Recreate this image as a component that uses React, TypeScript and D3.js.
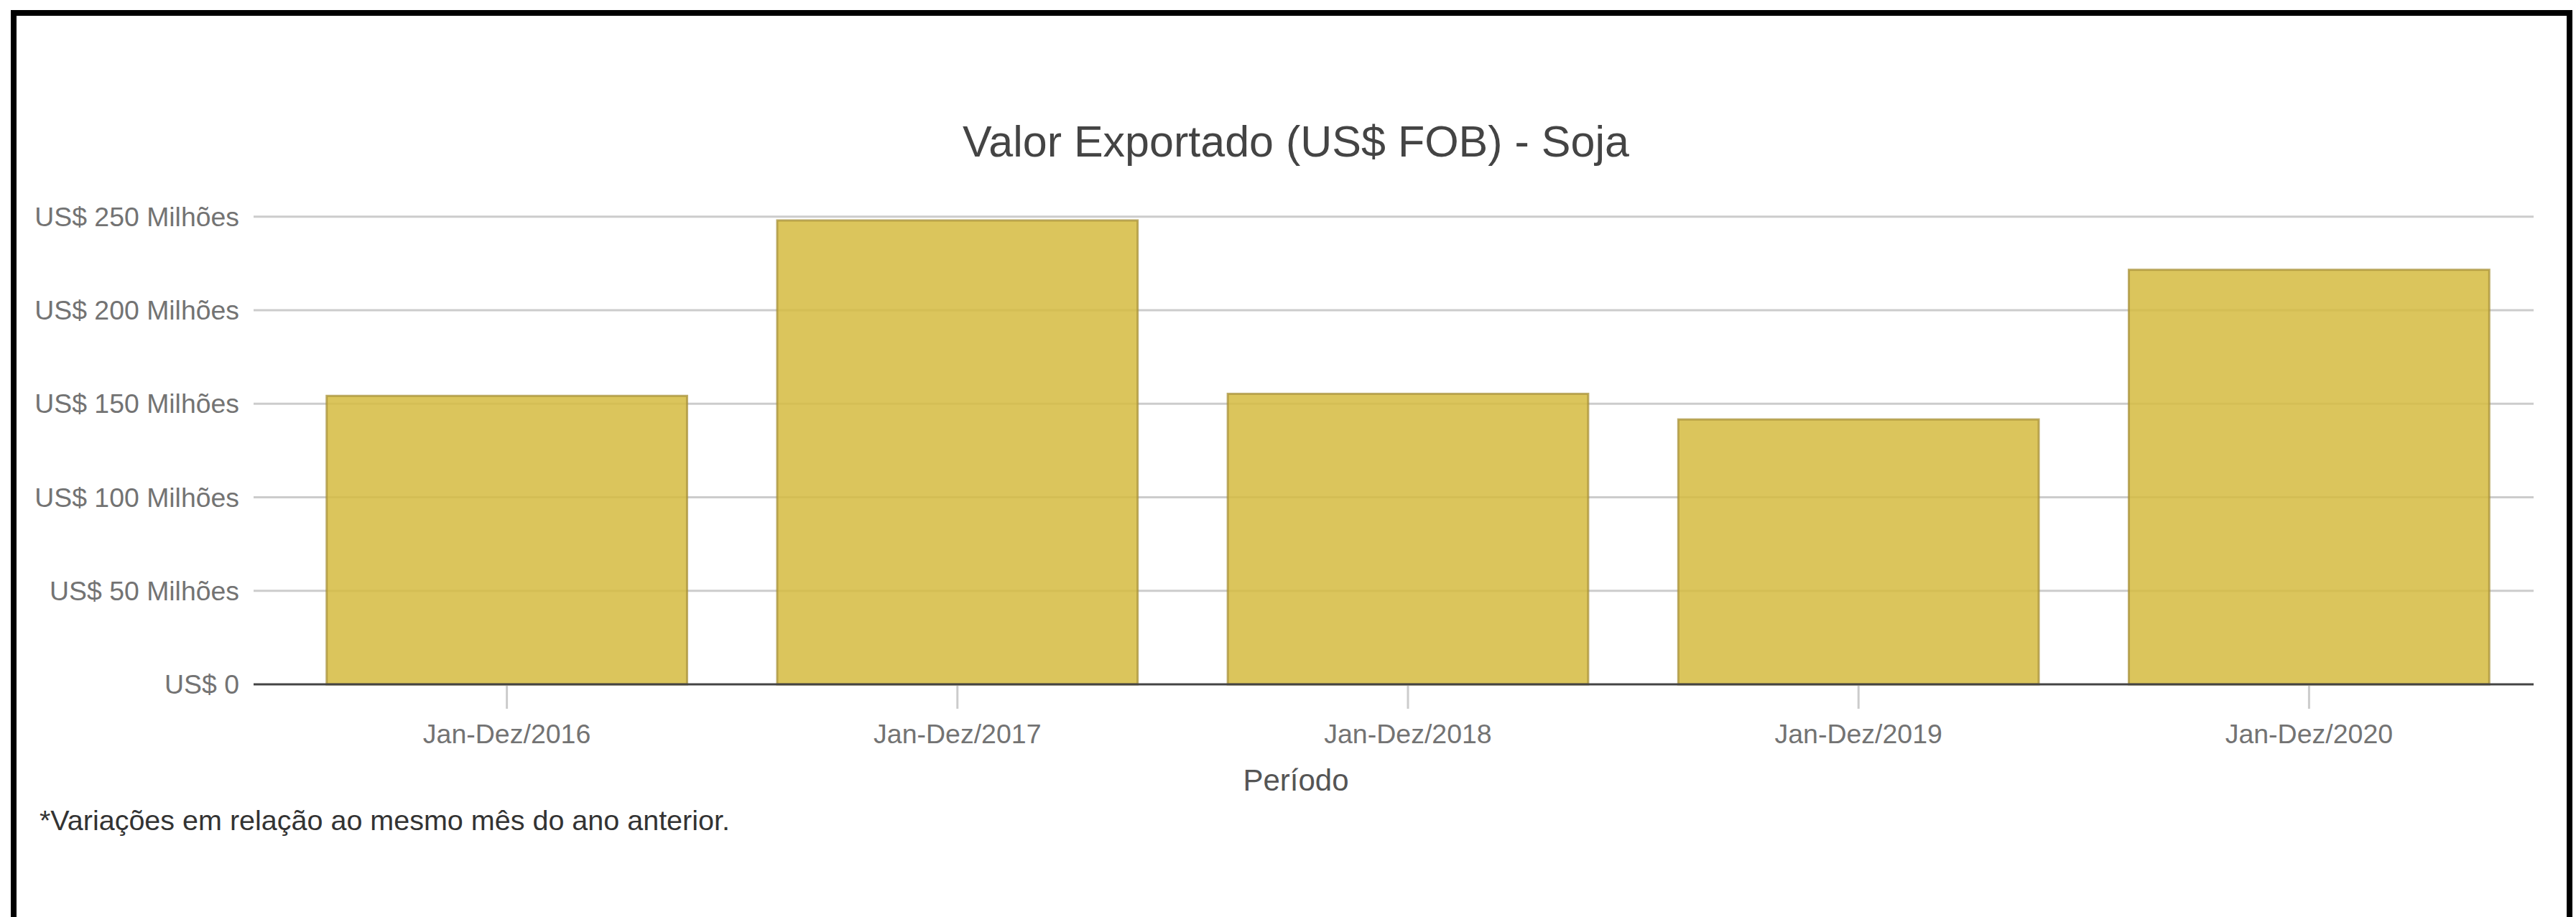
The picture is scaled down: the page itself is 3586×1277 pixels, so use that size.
import React from "react";
import * as d3 from "d3";

const categories = ["Jan-Dez/2016", "Jan-Dez/2017", "Jan-Dez/2018", "Jan-Dez/2019", "Jan-Dez/2020"];
const valuesMillions = [154.2, 248.0, 155.3, 141.6, 221.6];
const yTicks = [0, 50, 100, 150, 200, 250];
const title = "Valor Exportado (US$ FOB) - Soja";
const xAxisTitle = "Período";
const footnote = "*Variações em relação ao mesmo mês do ano anterior.";

const W = 3586;
const H = 1277;
const FONT = "'Liberation Sans', Arial, Helvetica, sans-serif";

function fmtTick(v: number): string {
  return v === 0 ? "US$ 0" : `US$ ${v} Milhões`;
}

export default function App() {
  const gridLeft = 353;
  const gridRight = 3527;
  const x = d3.scaleBand<string>().domain(categories).range([392, 3528]).paddingInner(0.2).paddingOuter(0.1);
  const y = d3.scaleLinear().domain([0, 250]).range([953, 301.7]);

  return (
    <svg
      width={W}
      height={H}
      viewBox={`0 0 ${W} ${H}`}
      style={{ position: "absolute", left: 0, top: 0, display: "block", background: "#fff" }}
      fontFamily={FONT}
    >
      <rect x={0} y={0} width={W} height={H} fill="#fff" />
      {/* frame */}
      <rect x={19} y={18} width={3558} height={1300} fill="none" stroke="#000" strokeWidth={8} />

      {/* title */}
      <text x={1804} y={218} textAnchor="middle" fontSize={61} fill="#444">
        {title}
      </text>

      {/* gridlines */}
      {yTicks.filter((t) => t !== 0).map((t) => (
        <line key={t} x1={gridLeft} x2={gridRight} y1={y(t)} y2={y(t)} stroke="#cccccc" strokeWidth={3} />
      ))}

      {/* y labels */}
      {yTicks.map((t) => (
        <text key={t} x={333} y={y(t)} dy="0.35em" textAnchor="end" fontSize={37.4} fill="#737373">
          {fmtTick(t)}
        </text>
      ))}

      {/* bars */}
      {categories.map((c, i) => (
        <rect
          key={c}
          x={x(c)!}
          y={y(valuesMillions[i])}
          width={x.bandwidth()}
          height={y(0) - y(valuesMillions[i])}
          fill="#d5bb3f"
          fillOpacity={0.85}
          stroke="#a8923a"
          strokeOpacity={0.75}
          strokeWidth={3}
        />
      ))}

      {/* zero axis line */}
      <line x1={gridLeft} x2={gridRight} y1={y(0)} y2={y(0)} stroke="#444" strokeWidth={3} />

      {/* x ticks & labels */}
      {categories.map((c) => {
        const cx = x(c)! + x.bandwidth() / 2;
        return (
          <g key={c}>
            <line x1={cx} x2={cx} y1={y(0) + 2} y2={987} stroke="#cccccc" strokeWidth={3} />
            <text x={cx} y={1035} textAnchor="middle" fontSize={37.5} fill="#737373">
              {c}
            </text>
          </g>
        );
      })}

      <text x={1804} y={1101} textAnchor="middle" fontSize={42} fill="#555">
        {xAxisTitle}
      </text>

      <text x={55} y={1156} fontSize={39.5} fill="#333">
        {footnote}
      </text>
    </svg>
  );
}
